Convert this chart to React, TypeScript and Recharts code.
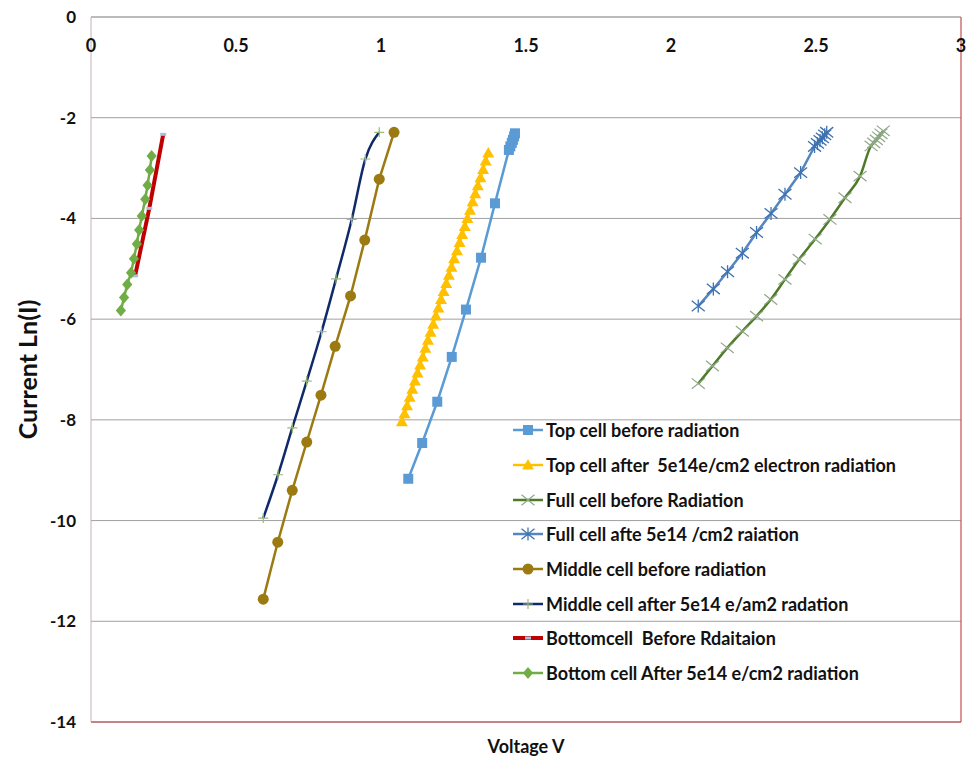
import React from "react";
import {
  LineChart,
  Line,
  XAxis,
  YAxis,
  CartesianGrid,
  Legend,
  ReferenceLine,
} from "recharts";

// voltage (V) and ln(I), one pair per curve
const topBeforeV = [1.094, 1.142, 1.194, 1.244, 1.293, 1.345, 1.393, 1.441, 1.446, 1.451, 1.455, 1.459, 1.462];
const topBeforeI = [-9.17, -8.46, -7.64, -6.75, -5.81, -4.78, -3.7, -2.64, -2.57, -2.5, -2.44, -2.37, -2.31];

const topAfterV = [
  1.072, 1.081, 1.09, 1.099, 1.108, 1.117, 1.126, 1.135, 1.144, 1.153, 1.162, 1.171,
  1.18, 1.189, 1.198, 1.207, 1.216, 1.225, 1.234, 1.243, 1.252, 1.262, 1.271, 1.28,
  1.289, 1.298, 1.307, 1.316, 1.325, 1.334, 1.343, 1.352, 1.361, 1.37,
];
const topAfterI = [
  -8.04, -7.88, -7.72, -7.55, -7.39, -7.23, -7.07, -6.91, -6.75, -6.58, -6.42, -6.26,
  -6.1, -5.94, -5.78, -5.61, -5.45, -5.29, -5.13, -4.97, -4.8, -4.64, -4.48, -4.32,
  -4.16, -4.0, -3.84, -3.67, -3.51, -3.35, -3.19, -3.03, -2.86, -2.7,
];

const fullBeforeV = [2.094, 2.143, 2.194, 2.246, 2.295, 2.344, 2.393, 2.442, 2.497, 2.548, 2.6, 2.652, 2.69, 2.699, 2.708, 2.716, 2.724, 2.732];
const fullBeforeI = [-7.28, -6.93, -6.57, -6.24, -5.94, -5.61, -5.21, -4.81, -4.41, -4.02, -3.59, -3.16, -2.56, -2.5, -2.44, -2.38, -2.32, -2.26];

const fullAfterV = [2.094, 2.146, 2.195, 2.246, 2.295, 2.345, 2.393, 2.447, 2.495, 2.505, 2.514, 2.522, 2.53, 2.537];
const fullAfterI = [-5.74, -5.4, -5.06, -4.69, -4.28, -3.9, -3.52, -3.09, -2.57, -2.51, -2.45, -2.4, -2.34, -2.29];

const midBeforeV = [0.594, 0.644, 0.694, 0.744, 0.793, 0.842, 0.895, 0.944, 0.994, 1.045];
const midBeforeI = [-11.56, -10.43, -9.4, -8.44, -7.51, -6.54, -5.54, -4.43, -3.22, -2.29];

const midAfterV = [0.594, 0.645, 0.694, 0.744, 0.795, 0.845, 0.899, 0.946, 0.994];
const midAfterI = [-9.95, -9.09, -8.16, -7.23, -6.25, -5.2, -4.02, -2.82, -2.29];

const botBeforeV = [0.152, 0.201, 0.249];
const botBeforeI = [-5.14, -3.8, -2.33];

const botAfterV = [0.103, 0.114, 0.125, 0.138, 0.148, 0.158, 0.166, 0.175, 0.187, 0.195, 0.203, 0.209];
const botAfterI = [-5.83, -5.57, -5.31, -5.08, -4.8, -4.51, -4.23, -3.95, -3.62, -3.34, -3.04, -2.76];

const xTicks = [0, 0.5, 1, 1.5, 2, 2.5, 3];
const yTicks = [-14, -12, -10, -8, -6, -4, -2, 0];

const FONT = "Lato, 'Noto Sans', sans-serif";

type Shape = "square" | "triangle" | "x" | "asterisk" | "circle" | "plus" | "dash" | "diamond";

interface SeriesDef {
  key: string;
  name: string;
  v: number[];
  lnI: number[];
  stroke: string;
  width: number;
  shape: Shape;
  markColor: string;
  size: number;
  curve: "linear" | "monotone";
}

const SERIES: SeriesDef[] = [
  { key: "topBefore", name: "Top cell before radiation", v: topBeforeV, lnI: topBeforeI, stroke: "#5b9bd5", width: 2.5, shape: "square", markColor: "#5b9bd5", size: 10, curve: "linear" },
  { key: "topAfter", name: "Top cell after  5e14e/cm2 electron radiation", v: topAfterV, lnI: topAfterI, stroke: "#ffc000", width: 2.5, shape: "triangle", markColor: "#ffc000", size: 12, curve: "linear" },
  { key: "fullBefore", name: "Full cell before Radiation", v: fullBeforeV, lnI: fullBeforeI, stroke: "#4f7a28", width: 2.5, shape: "x", markColor: "#8fa886", size: 13, curve: "monotone" },
  { key: "fullAfter", name: "Full cell afte 5e14 /cm2 raiation", v: fullAfterV, lnI: fullAfterI, stroke: "#5486c0", width: 2.5, shape: "asterisk", markColor: "#3f72b0", size: 13, curve: "linear" },
  { key: "midBefore", name: "Middle cell before radiation", v: midBeforeV, lnI: midBeforeI, stroke: "#9c7a12", width: 2.5, shape: "circle", markColor: "#9c7a12", size: 11, curve: "linear" },
  { key: "midAfter", name: "Middle cell after 5e14 e/am2 radation", v: midAfterV, lnI: midAfterI, stroke: "#10296b", width: 2.5, shape: "plus", markColor: "#9bbb79", size: 10, curve: "monotone" },
  { key: "botBefore", name: "Bottomcell  Before Rdaitaion", v: botBeforeV, lnI: botBeforeI, stroke: "#c00000", width: 4, shape: "dash", markColor: "#a9bfdc", size: 6, curve: "linear" },
  { key: "botAfter", name: "Bottom cell After 5e14 e/cm2 radiation", v: botAfterV, lnI: botAfterI, stroke: "#70ad47", width: 2.5, shape: "diamond", markColor: "#70ad47", size: 12, curve: "linear" },
];

function Marker({ shape, cx, cy, color, size }: { shape: Shape; cx: number; cy: number; color: string; size: number }) {
  const h = size / 2;
  switch (shape) {
    case "square":
      return <rect x={cx - h} y={cy - h} width={size} height={size} fill={color} />;
    case "triangle":
      return <polygon points={`${cx},${cy - h} ${cx + h},${cy + h * 0.75} ${cx - h},${cy + h * 0.75}`} fill={color} />;
    case "circle":
      return <circle cx={cx} cy={cy} r={h} fill={color} />;
    case "diamond":
      return <polygon points={`${cx},${cy - h} ${cx + h * 0.85},${cy} ${cx},${cy + h} ${cx - h * 0.85},${cy}`} fill={color} />;
    case "x":
      return <path d={`M${cx - h},${cy - h * 0.8}L${cx + h},${cy + h * 0.8}M${cx - h},${cy + h * 0.8}L${cx + h},${cy - h * 0.8}`} stroke={color} strokeWidth={1.2} fill="none" />;
    case "asterisk":
      return <path d={`M${cx - h},${cy - h * 0.8}L${cx + h},${cy + h * 0.8}M${cx - h},${cy + h * 0.8}L${cx + h},${cy - h * 0.8}M${cx},${cy - h}L${cx},${cy + h}`} stroke={color} strokeWidth={1.3} fill="none" />;
    case "plus":
      return <path d={`M${cx - h},${cy}L${cx + h},${cy}M${cx},${cy - h}L${cx},${cy + h}`} stroke={color} strokeWidth={1.2} fill="none" />;
    case "dash":
      return <rect x={cx - h} y={cy - 1.5} width={size} height={3} fill={color} />;
  }
  return null;
}

const makeDot = (s: SeriesDef) => (props: any) => {
  const { cx, cy, index } = props;
  if (cx == null || cy == null) return <g key={`${s.key}-${index}`} />;
  return (
    <Marker key={`${s.key}-${index}`} shape={s.shape} cx={cx} cy={cy} color={s.markColor} size={s.size} />
  );
};

const renderLegend = () => (
  <div style={{ fontFamily: FONT, fontSize: 18, fontWeight: "bold", color: "#111" }}>
    {SERIES.map((s) => (
      <div key={s.key} style={{ display: "flex", alignItems: "center", height: 34.7 }}>
        <svg width={30} height={16}>
          <line x1={0} x2={30} y1={8} y2={8} stroke={s.stroke} strokeWidth={s.width} />
          <Marker shape={s.shape} cx={15} cy={8} color={s.markColor} size={s.size} />
        </svg>
        <span style={{ marginLeft: 3, whiteSpace: "pre" }}>{s.name}</span>
      </div>
    ))}
  </div>
);

export default function App() {
  const seriesData = SERIES.map((s) => ({
    ...s,
    data: s.v.map((v, i) => ({ v, lnI: s.lnI[i] })),
  }));

  return (
    <div style={{ position: "absolute", left: 0, top: 0, width: 972, height: 759, background: "#fff" }}>
      <LineChart width={972} height={759} margin={{ top: 17, right: 11, bottom: 0, left: 0 }}>
        <CartesianGrid vertical={false} stroke="#a0a0a0" strokeWidth={1} />
        <XAxis
          type="number"
          dataKey="v"
          domain={[0, 3]}
          ticks={xTicks}
          orientation="top"
          mirror
          height={1}
          tickSize={0}
          tickMargin={22}
          tickLine={false}
          axisLine={{ stroke: "#a6a6a6" }}
          tick={{ fill: "#111", fontSize: 18, fontWeight: "bold", fontFamily: FONT }}
          allowDuplicatedCategory={false}
        />
        <XAxis
          xAxisId="title"
          type="number"
          domain={[0, 3]}
          orientation="bottom"
          height={37}
          tick={false}
          tickLine={false}
          axisLine={false}
          label={{ value: "Voltage V", position: "insideBottom", offset: 6, fill: "#111", fontSize: 18, fontWeight: "bold", fontFamily: FONT }}
        />
        <YAxis
          type="number"
          domain={[-14, 0]}
          ticks={yTicks}
          width={91}
          tickSize={0}
          tickMargin={15}
          tickLine={false}
          axisLine={{ stroke: "#c4b4b4" }}
          tick={{ fill: "#111", fontSize: 17, fontWeight: "bold", fontFamily: FONT }}
          label={{
            value: "Current Ln(I)",
            angle: -90,
            position: "insideLeft",
            offset: 28,
            fill: "#111",
            fontSize: 25,
            fontWeight: "bold",
            fontFamily: FONT,
            style: { textAnchor: "middle" },
          }}
        />
        <ReferenceLine x={3} stroke="#c0504d" strokeWidth={1.5} strokeOpacity={0.8} />
        <ReferenceLine y={-14} stroke="#c0504d" strokeWidth={1.5} strokeOpacity={0.8} />
        <Legend
          layout="vertical"
          align="center"
          verticalAlign="middle"
          content={renderLegend}
          wrapperStyle={{ left: 513, top: 413, width: 440 }}
        />
        {seriesData.map((s) => (
          <Line
            key={s.key}
            data={s.data}
            dataKey="lnI"
            name={s.name}
            type={s.curve}
            stroke={s.stroke}
            strokeWidth={s.width}
            dot={makeDot(s)}
            activeDot={false}
            isAnimationActive={false}
          />
        ))}
      </LineChart>
    </div>
  );
}
